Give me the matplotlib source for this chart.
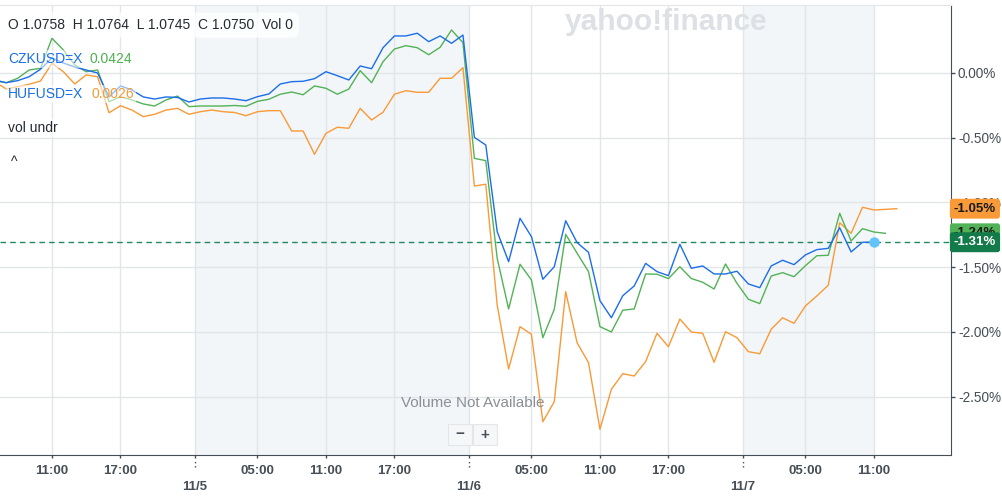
"""Intraday % change chart: main FX symbol vs CZKUSD=X and HUFUSD=X."""
import matplotlib
matplotlib.use("Agg")
import matplotlib.pyplot as plt
import matplotlib.transforms as mtransforms
from matplotlib.patches import Rectangle
import numpy as np

plt.rcParams["font.family"] = ["Liberation Sans", "DejaVu Sans"]

# x = hours since 11/4 00:00, one point per hour
START_HOUR = 6

main_pct = [
    -0.054, -0.075, -0.059, -0.029, 0.029, 0.116, 0.077, 0.046, 0.023, 0.000,
    -0.185, -0.100, -0.131, -0.185, -0.201, -0.185, -0.189, -0.224, -0.201, -0.193,
    -0.193, -0.201, -0.214, -0.183, -0.162, -0.085, -0.067, -0.064, -0.044, 0.010,
    -0.021, -0.054, 0.054, 0.033, 0.195, 0.286, 0.286, 0.307, 0.242, 0.286,
    0.229, 0.293, -0.497, -0.556, -1.225, -1.457, -1.122, -1.264, -1.593, -1.496,
    -1.141, -1.310, -1.385, -1.758, -1.890, -1.720, -1.645, -1.470, -1.534, -1.565,
    -1.323, -1.508, -1.490, -1.552, -1.552, -1.531, -1.629, -1.658, -1.490, -1.446,
    -1.480, -1.405, -1.364, -1.354, -1.195, -1.382, -1.307, -1.307,
]
czk_pct = [
    -0.062, -0.075, -0.041, 0.023, 0.036, 0.268, 0.178, 0.062, 0.010, 0.023,
    -0.222, -0.183, -0.208, -0.239, -0.255, -0.208, -0.178, -0.260, -0.255, -0.255,
    -0.255, -0.251, -0.257, -0.219, -0.203, -0.164, -0.147, -0.168, -0.100, -0.118,
    -0.164, -0.124, 0.018, -0.075, 0.087, 0.185, 0.211, 0.195, 0.141, 0.198,
    0.332, 0.234, -0.659, -0.677, -1.431, -1.822, -1.477, -1.598, -2.044, -1.825,
    -1.246, -1.392, -1.534, -1.959, -2.000, -1.832, -1.822, -1.552, -1.554, -1.588,
    -1.496, -1.587, -1.616, -1.668, -1.475, -1.624, -1.747, -1.781, -1.568, -1.542,
    -1.573, -1.488, -1.411, -1.408, -1.083, -1.297, -1.202, -1.228, -1.238,
]
huf_pct = [
    -0.069, -0.124, -0.106, -0.087, -0.062, 0.075, 0.010, -0.085, -0.015, -0.029,
    -0.307, -0.253, -0.286, -0.337, -0.319, -0.286, -0.273, -0.319, -0.299, -0.286,
    -0.299, -0.305, -0.330, -0.299, -0.291, -0.291, -0.448, -0.448, -0.628, -0.466,
    -0.419, -0.427, -0.273, -0.363, -0.303, -0.164, -0.137, -0.149, -0.149, -0.041,
    -0.041, 0.041, -0.873, -0.859, -1.792, -2.286, -1.959, -2.018, -2.693, -2.538,
    -1.689, -2.083, -2.237, -2.751, -2.443, -2.322, -2.340, -2.229, -2.010, -2.114,
    -1.900, -2.000, -2.010, -2.234, -1.998, -2.044, -2.152, -2.168, -1.979, -1.890,
    -1.933, -1.799, -1.722, -1.639, -1.156, -1.238, -1.037, -1.058, -1.053, -1.048,
]

hour_ticks = [11, 17, 29, 35, 41, 53, 59, 65, 77, 83]
hour_labels = ["11:00", "17:00", "05:00", "11:00", "17:00",
               "05:00", "11:00", "17:00", "05:00", "11:00"]
day_ticks = [23.5, 47.5, 71.5]
day_labels = ["11/5", "11/6", "11/7"]
shaded_spans = [(23.5, 47.5), (71.5, 83)]
y_ticks = [0.0, -0.5, -1.0, -1.5, -2.0, -2.5]

BLUE = "#1b6ee8"
GREEN = "#52b257"
ORANGE = "#f89a38"
DARK = "#464e56"
GRID = "#e3e6e9"

W, H = 1002, 496


def fpos(x, y):
    """pixel position (from top-left) -> figure fraction"""
    return x / W, 1 - y / H


fig = plt.figure(figsize=(W / 100, H / 100), dpi=100)
ax = fig.add_axes([0, 41 / H, 951 / W, 450 / H])

for a, b in shaded_spans:
    ax.axvspan(a, b, color="#f3f6f9", zorder=0, lw=0)

x_main = np.arange(START_HOUR, START_HOUR + len(main_pct))
x_czk = np.arange(START_HOUR, START_HOUR + len(czk_pct))
x_huf = np.arange(START_HOUR, START_HOUR + len(huf_pct))

ax.plot(x_huf, huf_pct, color=ORANGE, lw=1.0, zorder=3)
ax.plot(x_czk, czk_pct, color=GREEN, lw=1.0, zorder=3)
ax.plot(x_main, main_pct, color=BLUE, lw=1.0, zorder=4)
ax.axhline(main_pct[-1], color="#1f8a5c", lw=1.0, dashes=(4, 3), zorder=2)
ax.plot(x_main[-1], main_pct[-1], "o", ms=6.5, color="#62c4fa", zorder=5)

ax.set_xlim(6.45, 89.75)
ax.set_ylim(-2.95, 0.525)

ax.set_xticks(hour_ticks)
ax.set_xticklabels(hour_labels)
ax.set_xticks(day_ticks, minor=True)
ax.set_xticklabels(day_labels, minor=True)
ax.tick_params(axis="x", which="both", length=2.5, width=1, labelsize=9.5,
               colors=DARK)
for lbl in ax.get_xticklabels(which="both"):
    lbl.set_fontweight("bold")
ax.tick_params(axis="x", which="major", pad=4.6)
ax.tick_params(axis="x", which="minor", pad=16)
ax.grid(True, which="both", color=GRID, lw=1.0, zorder=1)

ax.yaxis.tick_right()
ax.set_yticks(y_ticks)
ax.set_yticklabels([f"{v:.2f}%" for v in y_ticks])
ax.tick_params(axis="y", length=3, width=1, pad=2, labelsize=9.8,
               colors=DARK)

# dotted continuation of the day-boundary ticks
ax.vlines(day_ticks, -0.027, -0.008, transform=ax.get_xaxis_transform(),
          colors=DARK, lw=1.0, linestyles=(0, (1, 2)), clip_on=False)

ax.spines["left"].set_visible(False)
ax.spines["top"].set_color(GRID)
ax.spines["right"].set_color(DARK)
ax.spines["bottom"].set_color(DARK)

# last-value tags on the right axis
trans = mtransforms.blended_transform_factory(ax.transAxes, ax.transData)
tags = [(huf_pct[-1], ORANGE, "#1a1a1a"),
        (czk_pct[-1], GREEN, "#1a1a1a"),
        (main_pct[-1], "#137a4a", "white")]
for val, bg, fg in tags:
    ax.text(1.003, val, f"{val:.2f}%", transform=trans, ha="left", va="center",
            fontsize=9.5, weight="bold", color=fg, clip_on=False, zorder=10,
            bbox=dict(boxstyle="round,pad=0.3,rounding_size=0.2", fc=bg, ec="none"))

# watermark + overlays
fig.text(*fpos(565, 22), "yahoo!finance", fontsize=21.5, weight="bold",
         color="#dde0e4", va="center", ha="left", zorder=1)

fig.text(*fpos(8, 25), "O 1.0758  H 1.0764  L 1.0745  C 1.0750  Vol 0",
         fontsize=10, color="#232a31", va="center",
         bbox=dict(boxstyle="round,pad=0.4", fc="white", ec="none", alpha=0.8))
soft = dict(boxstyle="square,pad=0.15", fc="white", ec="none", alpha=0.55)
fig.text(*fpos(8, 59), "CZKUSD=X", fontsize=10, color=BLUE, va="center", bbox=soft)
fig.text(*fpos(90, 59), "0.0424", fontsize=10, color="#4caf50", va="center", bbox=soft)
fig.text(*fpos(8, 94), "HUFUSD=X", fontsize=10, color=BLUE, va="center", bbox=soft)
fig.text(*fpos(91, 94), "0.0026", fontsize=10, color=ORANGE, va="center", bbox=soft)
fig.text(*fpos(8, 128), "vol undr", fontsize=10, color="#232a31", va="center", bbox=soft)
fig.text(*fpos(14.5, 162), "^", fontsize=10, color="#232a31", va="center", ha="center")

fig.text(*fpos(473, 403), "Volume Not Available", fontsize=11,
         color="#8a9096", ha="center", va="center")

for x0, sym in [(448, "\u2212"), (473, "+")]:
    fig.add_artist(Rectangle(fpos(x0, 445), 24 / W, 21 / H,
                             transform=fig.transFigure, fc="#f6f7f9",
                             ec="#e4e7ea", lw=0.8))
    fig.text(*fpos(x0 + 12, 434.5), sym, fontsize=11, weight="bold",
             color=DARK, ha="center", va="center")

fig.savefig("out.png", dpi=100)
